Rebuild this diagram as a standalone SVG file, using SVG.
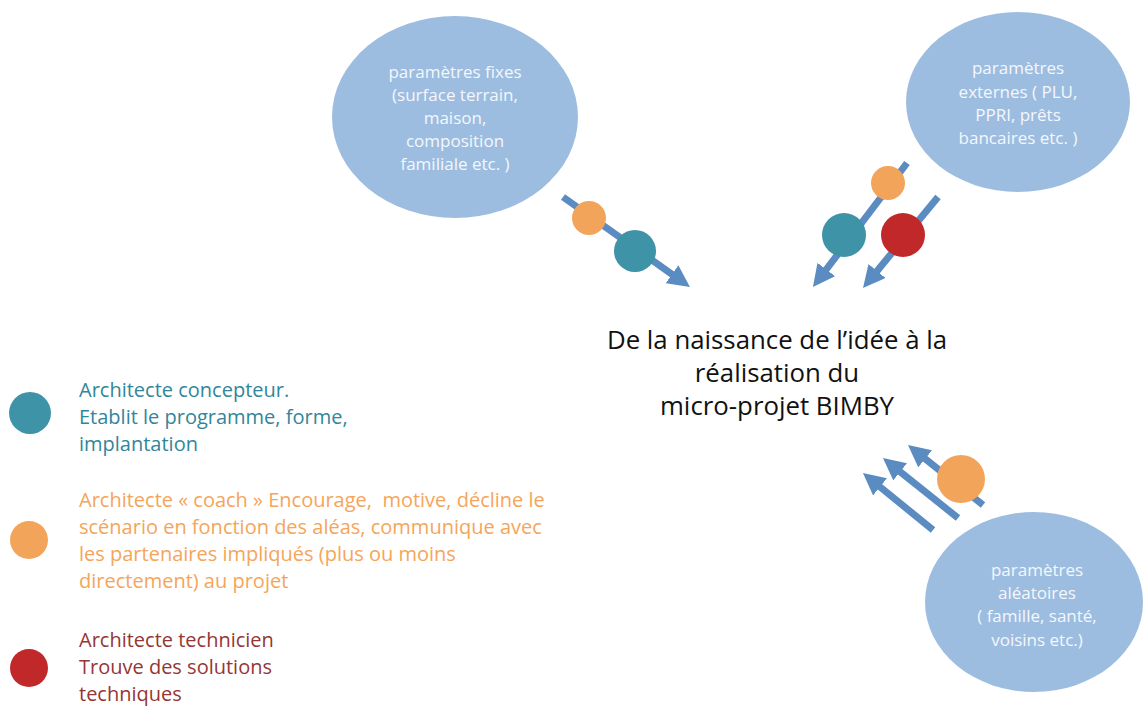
<svg xmlns="http://www.w3.org/2000/svg" width="1144" height="706" viewBox="0 0 1144 706">
<style>
.ell{fill:#9dbde0}
.et{font-family:"Open Sans","Liberation Sans",sans-serif;font-size:17px;fill:#f4f7fb;text-anchor:middle}
.arr{stroke:#5a8cc2;stroke-width:7;fill:none;marker-end:url(#ah)}
.teal{fill:#3e93a6}.orange{fill:#f2a55a}.red{fill:#c1282a}
.lg{font-family:"Open Sans","Liberation Sans",sans-serif;font-size:20px}
.title{font-family:"Open Sans","Liberation Sans",sans-serif;font-size:25.8px;fill:#111;text-anchor:middle}
</style>
<defs>
<marker id="ah" viewBox="0 0 10 10" refX="2" refY="5" markerWidth="22" markerHeight="22" markerUnits="userSpaceOnUse" orient="auto">
<path d="M0,0 L10,5 L0,10 z" fill="#5a8cc2"/>
</marker>
</defs>
<rect width="1144" height="706" fill="#fff"/>
<g id="connectors">
<line class="arr" x1="563" y1="197" x2="675.6" y2="276.8"/>
<line class="arr" x1="907" y1="163" x2="823.6" y2="273"/>
<line class="arr" x1="938" y1="197" x2="874.2" y2="274.4"/>
<line class="arr" x1="933" y1="530" x2="876.6" y2="484.1"/>
<line class="arr" x1="958" y1="518" x2="896.7" y2="469"/>
<line class="arr" x1="983" y1="505" x2="921.7" y2="456"/>
</g>
<g id="fixes">
<ellipse class="ell" cx="455" cy="117" rx="123" ry="101"/>
<text class="et" x="455" y="78">paramètres fixes</text>
<text class="et" x="455" y="101">(surface terrain,</text>
<text class="et" x="455" y="124">maison,</text>
<text class="et" x="455" y="147">composition</text>
<text class="et" x="455" y="170">familiale etc. )</text>
</g>
<g id="externes">
<ellipse class="ell" cx="1018" cy="102" rx="112" ry="90"/>
<text class="et" x="1018" y="74">paramètres</text>
<text class="et" x="1018" y="98">externes ( PLU,</text>
<text class="et" x="1018" y="121">PPRI, prêts</text>
<text class="et" x="1018" y="144">bancaires etc. )</text>
</g>
<g id="aleatoires">
<ellipse class="ell" cx="1034" cy="602" rx="109" ry="90"/>
<text class="et" x="1037" y="576">paramètres</text>
<text class="et" x="1037" y="599">aléatoires</text>
<text class="et" x="1037" y="622">( famille, santé,</text>
<text class="et" x="1037" y="646">voisins etc.)</text>
</g>
<g id="markers-on-arrows">
<circle class="orange" cx="589" cy="218" r="17"/>
<circle class="teal" cx="635" cy="251" r="21"/>
<circle class="orange" cx="888" cy="183" r="17"/>
<circle class="teal" cx="844" cy="235" r="22"/>
<circle class="red" cx="903" cy="235" r="22"/>
<circle class="orange" cx="961" cy="479" r="24"/>
</g>
<g id="title">
<text class="title" x="777" y="349">De la naissance de l’idée à la</text>
<text class="title" x="777" y="382">réalisation du</text>
<text class="title" x="777" y="415">micro-projet BIMBY</text>
</g>
<g id="legend-concepteur">
<circle class="teal" cx="30" cy="413" r="21"/>
<text class="lg" fill="#31869b" x="79" y="397">Architecte concepteur.</text>
<text class="lg" fill="#31869b" x="79" y="424">Etablit le programme, forme,</text>
<text class="lg" fill="#31869b" x="79" y="451">implantation</text>
</g>
<g id="legend-coach">
<circle class="orange" cx="29" cy="540" r="19"/>
<text class="lg" fill="#f5a55a" x="79" y="507" xml:space="preserve">Architecte « coach » Encourage,  motive, décline le</text>
<text class="lg" fill="#f5a55a" x="79" y="534">scénario en fonction des aléas, communique avec</text>
<text class="lg" fill="#f5a55a" x="79" y="561">les partenaires impliqués (plus ou moins</text>
<text class="lg" fill="#f5a55a" x="79" y="588">directement) au projet</text>
</g>
<g id="legend-technicien">
<circle class="red" cx="29" cy="668" r="19"/>
<text class="lg" fill="#963634" x="79" y="647">Architecte technicien</text>
<text class="lg" fill="#963634" x="79" y="674">Trouve des solutions</text>
<text class="lg" fill="#963634" x="79" y="701">techniques</text>
</g>
</svg>
